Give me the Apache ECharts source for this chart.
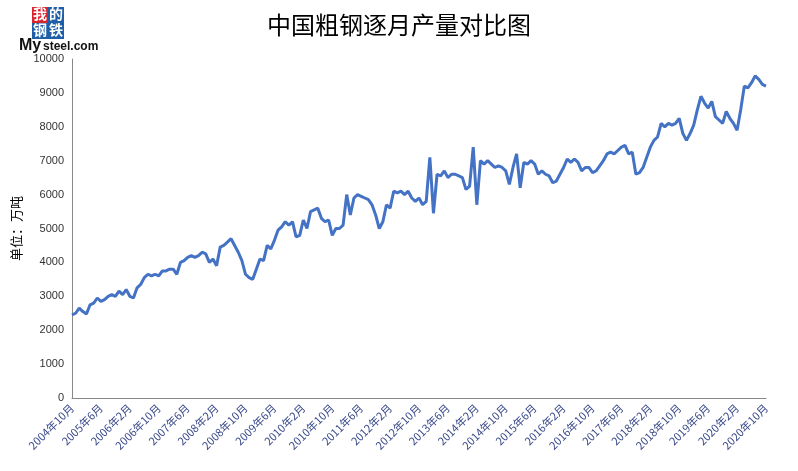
<!DOCTYPE html><html><head><meta charset="utf-8"><script src="https://cdn.jsdelivr.net/npm/echarts@6/dist/echarts.min.js"></script></head><body style="margin:0"><div id="c" style="width:798px;height:471px"></div><script>
const v2004=[2450,2500,2650];
const v2005=[2550,2480,2750,2800,2950,2850,2900,3000,3050,3000,3150,3050];
const v2006=[3200,3000,2950,3250,3350,3550,3650,3600,3650,3600,3750,3750];
const v2007=[3800,3800,3650,4000,4050,4150,4200,4150,4200,4300,4250,4000];
const v2008=[4100,3900,4450,4500,4600,4700,4500,4300,4050,3650,3550,3500];
const v2009=[3800,4100,4050,4500,4400,4650,4950,5050,5200,5100,5200,4750];
const v2010=[4800,5250,5000,5500,5550,5600,5300,5200,5250,4800,5000,5000];
const v2011=[5100,6000,5400,5900,6000,5950,5900,5850,5700,5400,5000,5200];
const v2012=[5700,5600,6100,6050,6100,6000,6100,5900,5800,5900,5700,5800];
const v2013=[7100,5450,6600,6550,6700,6500,6600,6600,6550,6500,6150,6250];
const v2014=[7400,5700,7000,6900,7000,6900,6800,6850,6800,6700,6300,6800];
const v2015=[7200,6200,6950,6900,7000,6900,6600,6700,6600,6550,6350,6400];
const v2016=[6600,6800,7050,6950,7050,6950,6700,6800,6800,6650,6700,6850];
const v2017=[7000,7200,7250,7200,7300,7400,7450,7200,7250,6600,6650,6800];
const v2018=[7100,7400,7600,7700,8100,8000,8100,8050,8100,8250,7800,7600];
const v2019=[7800,8050,8500,8900,8700,8550,8750,8300,8200,8100,8450,8250];
const v2020=[8100,7900,8500,9200,9150,9300,9500,9400,9250,9200];
const values=[].concat(v2004,v2005,v2006,v2007,v2008,v2009,v2010,v2011,v2012,v2013,v2014,v2015,v2016,v2017,v2018,v2019,v2020);
const categories=[];let y=2004,m=10;for(let i=0;i<values.length;i++){categories.push(y+'年'+m+'月');m++;if(m>12){m=1;y++;}}
const ch=echarts.init(document.getElementById('c'));
ch.setOption({
title:{text:'中国粗钢逐月产量对比图',left:'center',top:8,textStyle:{fontSize:24,fontWeight:'normal',color:'#000',fontFamily:'Noto Sans CJK SC'}},
grid:{left:72,right:32,top:59,bottom:73},
xAxis:{type:'category',data:categories,boundaryGap:false,axisTick:{show:false},axisLine:{lineStyle:{color:'#888'}},
 axisLabel:{interval:7,rotate:45,fontSize:11,color:'#3a4a8a',fontFamily:'Noto Sans CJK SC'}},
yAxis:{type:'value',min:0,max:10000,interval:1000,name:'单位：万吨',nameLocation:'middle',nameGap:40,nameRotate:90,
 nameTextStyle:{fontSize:13,color:'#000',fontFamily:'Noto Sans CJK SC'},splitLine:{show:false},
 axisLine:{show:true,lineStyle:{color:'#888'}},axisLabel:{fontSize:11,color:'#333',formatter:v=>String(v)}},
series:[{type:'line',data:values,symbol:'none',lineStyle:{color:'#4472C4',width:3}}],
graphic:[
 {type:'rect',shape:{x:32,y:7,width:16,height:16},style:{fill:'#d9232d'}},
 {type:'rect',shape:{x:48,y:7,width:16,height:16},style:{fill:'#1f5fa8'}},
 {type:'rect',shape:{x:32,y:23,width:16,height:16},style:{fill:'#1f5fa8'}},
 {type:'rect',shape:{x:48,y:23,width:16,height:16},style:{fill:'#1f5fa8'}},
 {type:'text',style:{text:'我',x:33,y:7,fill:'#fff',font:'bold 14px Noto Sans CJK SC'}},
 {type:'text',style:{text:'的',x:49,y:7,fill:'#fff',font:'bold 14px Noto Sans CJK SC'}},
 {type:'text',style:{text:'钢',x:33,y:23,fill:'#fff',font:'bold 14px Noto Sans CJK SC'}},
 {type:'text',style:{text:'铁',x:49,y:23,fill:'#fff',font:'bold 14px Noto Sans CJK SC'}},
 {type:'text',style:{text:'My',x:19,y:38,fill:'#111',font:'bold 16px Arial'}},
 {type:'text',style:{text:'steel.com',x:43,y:41,fill:'#111',font:'bold 12px Arial'}}
]});
</script></body></html>
